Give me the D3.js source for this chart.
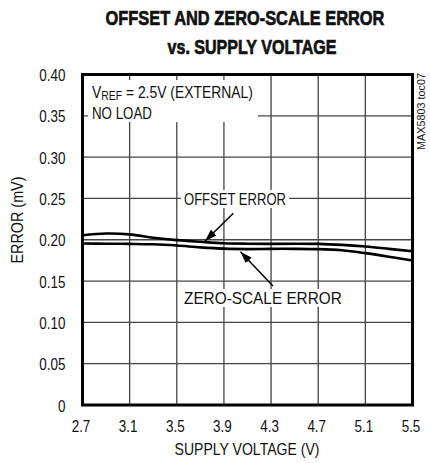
<!DOCTYPE html>
<html><head><meta charset="utf-8">
<script src="https://cdn.jsdelivr.net/npm/d3@7"></script>
<style>
html,body{margin:0;padding:0;background:#fff;}
text{font-family:"Liberation Sans",Arial,sans-serif;fill:#111;}
</style></head>
<body><svg id="c" width="430" height="463"></svg>
<script>
const voltages = [2.7, 2.9, 3.1, 3.3, 3.5, 3.7, 3.9, 4.1, 4.3, 4.5, 4.7, 4.9, 5.1, 5.3, 5.5];
const offsetError = [0.2055, 0.2075, 0.2065, 0.2025, 0.1995, 0.1975, 0.1958, 0.1952, 0.1950, 0.1952, 0.1950, 0.1938, 0.1918, 0.1890, 0.1860];
const zeroScaleError = [0.1955, 0.1952, 0.1950, 0.1945, 0.1930, 0.1908, 0.1892, 0.1887, 0.1890, 0.1890, 0.1886, 0.1872, 0.1838, 0.1795, 0.1748];
const xTicks = [2.7, 3.1, 3.5, 3.9, 4.3, 4.7, 5.1, 5.5];
const yTicks = [0, 0.05, 0.10, 0.15, 0.20, 0.25, 0.30, 0.35, 0.40];
const yTickLabels = ["0", "0.05", "0.10", "0.15", "0.20", "0.25", "0.30", "0.35", "0.40"];
const titleLines = ["OFFSET AND ZERO-SCALE ERROR", "vs. SUPPLY VOLTAGE"];

const svg = d3.select("#c");
const L = 82.5, R = 412.5, T = 74.5, B = 405;
const x = d3.scaleLinear().domain([2.7, 5.5]).range([L, R]);
const y = d3.scaleLinear().domain([0, 0.4]).range([B, T]);

// text squeezed horizontally to a target width
function ntext(tf, str, size, width, anchor, weight) {
  const gg = svg.append("g").attr("transform", tf);
  const t = gg.append("text").attr("text-anchor", anchor || "start")
    .style("font-size", size + "px").style("font-weight", weight || "normal");
  if (typeof str === "string") t.text(str); else str(t);
  const len = t.node().getComputedTextLength();
  t.attr("transform", `scale(${width / len},1)`);
  return t;
}

// title
ntext("translate(245,25)", titleLines[0], 21, 279, "middle", "bold").attr("stroke", "#111").attr("stroke-width", 0.7);
ntext("translate(252,54)", titleLines[1], 21, 169, "middle", "bold").attr("stroke", "#111").attr("stroke-width", 0.7);

// grid
const g = svg.append("g");
g.selectAll("line.vx").data(xTicks.slice(1, -1)).join("line")
  .attr("x1", d => x(d)).attr("x2", d => x(d)).attr("y1", T).attr("y2", B)
  .attr("stroke", "#444").attr("stroke-width", 1.3);
g.selectAll("line.hy").data(yTicks.slice(1, -1)).join("line")
  .attr("y1", d => y(d)).attr("y2", d => y(d)).attr("x1", L).attr("x2", R)
  .attr("stroke", "#444").attr("stroke-width", 1.3);

// axes labels via d3 axes (no tick marks)
const xAxis = svg.append("g").attr("transform", `translate(0,${B})`)
  .call(d3.axisBottom(x).tickValues(xTicks).tickSize(0).tickPadding(0).tickFormat(d3.format(".1f")));
const yAxis = svg.append("g").attr("transform", `translate(${L},0)`)
  .call(d3.axisLeft(y).tickValues(yTicks).tickSize(0).tickPadding(0).tickFormat((d, i) => yTickLabels[i]));
[xAxis, yAxis].forEach(a => {
  a.select(".domain").remove();
  a.selectAll("text").style("font-size", "16px").attr("fill", "#111")
    .style("font-family", '"Liberation Sans",Arial,sans-serif');
});
yAxis.selectAll("text").attr("x", null).attr("dy", null).attr("y", null)
  .attr("transform", "translate(-17,6) scale(0.84,1)");
xAxis.selectAll("text").attr("dy", null).attr("y", null)
  .attr("transform", "translate(-2,27) scale(0.84,1)");

ntext("translate(247,455)", "SUPPLY VOLTAGE (V)", 16, 145, "middle");
ntext("translate(23,220) rotate(-90)", "ERROR (mV)", 16, 87, "middle");

// white label backgrounds
svg.append("rect").attr("x", 88).attr("y", 80).attr("width", 170).attr("height", 42).attr("fill", "#fff");
svg.append("rect").attr("x", 181).attr("y", 190).attr("width", 108).attr("height", 18).attr("fill", "#fff");
svg.append("rect").attr("x", 181).attr("y", 289).attr("width", 164).attr("height", 18).attr("fill", "#fff");

// top-left note
ntext("translate(92,98)", t => {
  t.append("tspan").text("V");
  t.append("tspan").attr("dy", 2).style("font-size", "12px").text("REF");
  t.append("tspan").attr("dy", -2).text(" = 2.5V (EXTERNAL)");
}, 16, 161);
ntext("translate(92,119)", "NO LOAD", 16, 60);

// side code
ntext("translate(425,73) rotate(-90)", "MAX5803 toc07", 10, 77, "end");

// curves
const line = d3.line().x((d, i) => x(voltages[i])).y(d => y(d)).curve(d3.curveCatmullRom);
[offsetError, zeroScaleError].forEach(s => {
  svg.append("path").attr("d", line(s)).attr("fill", "none").attr("stroke", "#000").attr("stroke-width", 2.6);
});

// arrows
const defs = svg.append("defs");
defs.append("marker").attr("id", "ah").attr("viewBox", "0 0 12 8").attr("refX", 12).attr("refY", 4)
  .attr("markerWidth", 12).attr("markerHeight", 8).attr("markerUnits", "userSpaceOnUse").attr("orient", "auto")
  .append("path").attr("d", "M0,0 L12,4 L0,8 Z").attr("fill", "#000");
svg.append("line").attr("x1", x(3.98)).attr("y1", y(0.232)).attr("x2", x(3.74)).attr("y2", y(0.1985))
  .attr("stroke", "#000").attr("stroke-width", 1.5).attr("marker-end", "url(#ah)");
svg.append("line").attr("x1", x(4.316)).attr("y1", y(0.144)).attr("x2", x(4.04)).attr("y2", y(0.1855))
  .attr("stroke", "#000").attr("stroke-width", 1.5).attr("marker-end", "url(#ah)");

ntext("translate(184,205)", "OFFSET ERROR", 16, 102);
ntext("translate(184,304)", "ZERO-SCALE ERROR", 16, 158);

// frame
svg.append("rect").attr("x", L).attr("y", T).attr("width", R - L).attr("height", B - T)
  .attr("fill", "none").attr("stroke", "#000").attr("stroke-width", 3);
</script></body></html>
